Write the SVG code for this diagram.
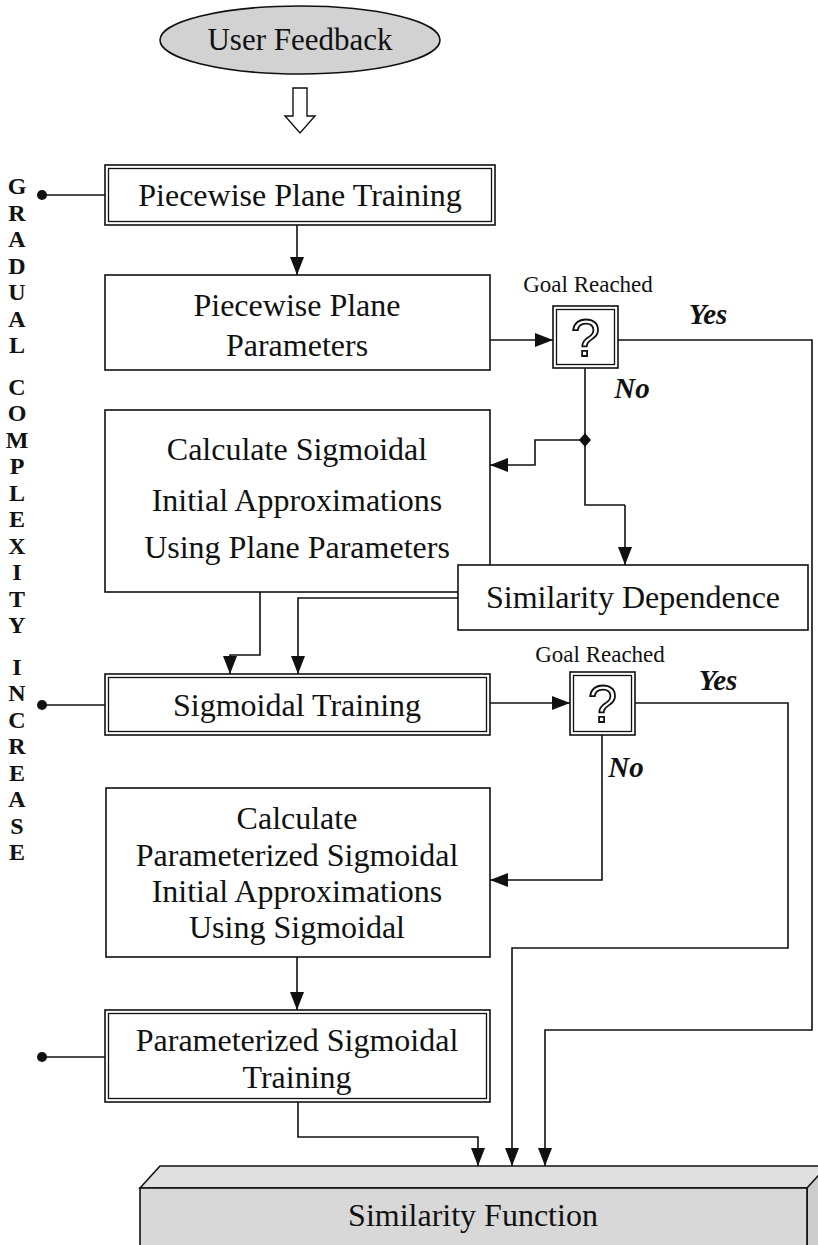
<svg xmlns="http://www.w3.org/2000/svg" width="818" height="1245" viewBox="0 0 818 1245">
  <style>
    .box { fill: #ffffff; stroke: #111111; stroke-width: 1.6; }
    .inner { fill: none; stroke: #111111; stroke-width: 1.3; }
    .lbl { font-family: "Liberation Serif", "Times New Roman", serif; font-size: 32px; fill: #111111; text-anchor: middle; }
    .small { font-family: "Liberation Serif", "Times New Roman", serif; font-size: 23px; fill: #111111; text-anchor: middle; }
    .yn { font-family: "Liberation Serif", "Times New Roman", serif; font-size: 29px; font-weight: bold; font-style: italic; fill: #111111; text-anchor: middle; }
    .side { font-family: "Liberation Serif", "Times New Roman", serif; font-size: 24px; font-weight: bold; fill: #111111; text-anchor: middle; }
    .qm { font-family: "Liberation Sans", Arial, sans-serif; font-size: 52px; fill: #ffffff; stroke: #111111; stroke-width: 1.8; text-anchor: middle; }
    .wire { fill: none; stroke: #111111; stroke-width: 1.6; }
    .arr { fill: none; stroke: #111111; stroke-width: 1.6; marker-end: url(#ah); }
  </style>
  <defs>
    <marker id="ah" viewBox="0 0 10 10" refX="10" refY="5" markerWidth="18" markerHeight="14" markerUnits="userSpaceOnUse" orient="auto" preserveAspectRatio="none">
      <path d="M0,0 L10,5 L0,10 z" fill="#111111"/>
    </marker>
  </defs>

  <rect width="818" height="1245" fill="#ffffff"/>

  <!-- vertical caption on the left -->
  <g id="caption">
    <text class="side" x="17" y="194">G</text>
    <text class="side" x="17" y="221">R</text>
    <text class="side" x="17" y="247">A</text>
    <text class="side" x="17" y="274">D</text>
    <text class="side" x="17" y="300">U</text>
    <text class="side" x="17" y="327">A</text>
    <text class="side" x="17" y="353">L</text>
    <text class="side" x="17" y="395">C</text>
    <text class="side" x="17" y="421">O</text>
    <text class="side" x="17" y="448">M</text>
    <text class="side" x="17" y="474">P</text>
    <text class="side" x="17" y="501">L</text>
    <text class="side" x="17" y="527">E</text>
    <text class="side" x="17" y="554">X</text>
    <text class="side" x="17" y="580">I</text>
    <text class="side" x="17" y="607">T</text>
    <text class="side" x="17" y="633">Y</text>
    <text class="side" x="17" y="675">I</text>
    <text class="side" x="17" y="701">N</text>
    <text class="side" x="17" y="728">C</text>
    <text class="side" x="17" y="754">R</text>
    <text class="side" x="17" y="781">E</text>
    <text class="side" x="17" y="807">A</text>
    <text class="side" x="17" y="834">S</text>
    <text class="side" x="17" y="860">E</text>
  </g>

  <!-- nodes -->
  <g id="user-feedback">
    <ellipse cx="300" cy="40" rx="140" ry="34" fill="#d2d2d2" stroke="#111111" stroke-width="1.6"/>
    <text class="lbl" x="300" y="50" style="font-size:31px">User Feedback</text>
  </g>

  <g id="piecewise-training">
    <rect class="box" x="105" y="165" width="390" height="60"/>
    <rect class="inner" x="108.5" y="168.5" width="383" height="53"/>
    <text class="lbl" x="300" y="206">Piecewise Plane Training</text>
  </g>

  <g id="piecewise-parameters">
    <rect class="box" x="105" y="275" width="385" height="95"/>
    <text class="lbl" x="297" y="316">Piecewise Plane</text>
    <text class="lbl" x="297" y="356">Parameters</text>
  </g>

  <g id="goal-1">
    <text class="small" x="588" y="292">Goal Reached</text>
    <rect class="box" x="553" y="306" width="65" height="62"/>
    <rect class="inner" x="556.5" y="309.5" width="58" height="55"/>
    <text class="qm" x="585.5" y="356">?</text>
  </g>

  <g id="calc-sigmoidal">
    <rect class="box" x="105" y="410" width="385" height="182"/>
    <text class="lbl" x="297" y="460">Calculate Sigmoidal</text>
    <text class="lbl" x="297" y="511">Initial Approximations</text>
    <text class="lbl" x="297" y="558">Using Plane Parameters</text>
  </g>

  <g id="similarity-dependence">
    <rect class="box" x="458" y="565" width="350" height="65"/>
    <text class="lbl" x="633" y="608">Similarity Dependence</text>
  </g>

  <g id="sigmoidal-training">
    <rect class="box" x="105" y="674" width="385" height="61"/>
    <rect class="inner" x="108.5" y="677.5" width="378" height="54"/>
    <text class="lbl" x="297" y="716">Sigmoidal Training</text>
  </g>

  <g id="goal-2">
    <text class="small" x="600" y="662">Goal Reached</text>
    <rect class="box" x="570" y="672" width="65" height="63"/>
    <rect class="inner" x="573.5" y="675.5" width="58" height="56"/>
    <text class="qm" x="602.5" y="722">?</text>
  </g>

  <g id="calc-parameterized">
    <rect class="box" x="106" y="788" width="384" height="169"/>
    <text class="lbl" x="297" y="829">Calculate</text>
    <text class="lbl" x="297" y="866">Parameterized Sigmoidal</text>
    <text class="lbl" x="297" y="902">Initial Approximations</text>
    <text class="lbl" x="297" y="938">Using Sigmoidal</text>
  </g>

  <g id="parameterized-training">
    <rect class="box" x="105" y="1010" width="385" height="92"/>
    <rect class="inner" x="108.5" y="1013.5" width="378" height="85"/>
    <text class="lbl" x="297" y="1051">Parameterized Sigmoidal</text>
    <text class="lbl" x="297" y="1088">Training</text>
  </g>

  <g id="similarity-function">
    <polygon points="140,1188 160,1166 830,1166 810,1188" fill="#e0e0e0" stroke="#111111" stroke-width="1.6"/>
    <polygon points="807,1188 827,1166 827,1250 807,1250" fill="#cccccc" stroke="#111111" stroke-width="1.6"/>
    <rect x="140" y="1188" width="667" height="70" fill="#d8d8d8" stroke="#111111" stroke-width="1.6"/>
    <text class="lbl" x="473" y="1226">Similarity Function</text>
  </g>

  <!-- connectors -->
  <g id="connectors">
    <!-- hollow arrow from user feedback -->
    <polygon points="293,88 307,88 307,116 315,116 300,133 285,116 293,116" fill="#ffffff" stroke="#111111" stroke-width="1.4"/>

    <!-- stage markers -->
    <circle cx="42" cy="195" r="5" fill="#111111"/>
    <line class="wire" x1="42" y1="195" x2="105" y2="195"/>
    <circle cx="42" cy="705" r="5" fill="#111111"/>
    <line class="wire" x1="42" y1="705" x2="105" y2="705"/>
    <circle cx="42" cy="1057" r="5" fill="#111111"/>
    <line class="wire" x1="42" y1="1057" x2="105" y2="1057"/>

    <path class="arr" d="M297,225 V275"/>
    <path class="arr" d="M490,340 H553"/>
    <!-- yes branch of first goal check -->
    <path class="arr" d="M618,340 H812 V1030 H545 V1166"/>
    <text class="yn" x="708" y="324">Yes</text>
    <!-- no branch of first goal check -->
    <path class="wire" d="M585,368 V505 H625"/>
    <path class="arr" d="M625,505 V565"/>
    <text class="yn" x="632" y="398">No</text>
    <polygon points="585,433 591,440 585,447 579,440" fill="#111111"/>
    <path class="arr" d="M585,440 H535 V465 H490"/>

    <path class="arr" d="M260,592 V655 H230 V674"/>
    <path class="arr" d="M458,598 H298 V674"/>

    <path class="arr" d="M490,703 H570"/>
    <!-- yes branch of second goal check -->
    <path class="arr" d="M635,703 H788 V948 H512 V1166"/>
    <text class="yn" x="718" y="690">Yes</text>
    <!-- no branch of second goal check -->
    <path class="arr" d="M602,735 V880 H490"/>
    <text class="yn" x="626" y="777">No</text>

    <path class="arr" d="M297,957 V1010"/>
    <path class="arr" d="M298,1102 V1137 H478 V1166"/>
  </g>
</svg>
